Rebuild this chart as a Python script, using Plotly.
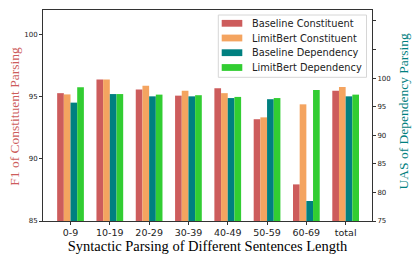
import plotly.graph_objects as go

categories = ["0-9", "10-19", "20-29", "30-39", "40-49", "50-59", "60-69", "total"]
baseline_const = [95.3, 96.4, 95.6, 95.1, 95.7, 93.2, 87.95, 95.5]
limitbert_const = [95.2, 96.4, 95.9, 95.5, 95.3, 93.35, 94.4, 95.8]
baseline_dep = [95.7, 97.2, 96.8, 96.8, 96.5, 96.3, 78.5, 96.8]
limitbert_dep = [98.4, 97.2, 97.1, 97.0, 96.7, 96.5, 97.9, 97.1]

names = ["Baseline Constituent", "LimitBert Constituent", "Baseline Dependency", "LimitBert Dependency"]
colors = ["#CD5C5C", "#F4A460", "#008080", "#32CD32"]
series = [baseline_const, limitbert_const, baseline_dep, limitbert_dep]
axes = ["y", "y", "y2", "y2"]
bases = {"y": 85, "y2": 75}

w = 0.17
offsets = [-2 * w, -w, 0, w]

# plot area in pixels (for legend placement)
L, R, T, B = 43, 43, 10, 39
W, H = 415, 260
pw, ph = W - L - R, H - T - B


def fx(px):
    return (px - L) / pw


def fy(py):
    return (H - B - py) / ph


fig = go.Figure()
for i in range(4):
    b = bases[axes[i]]
    fig.add_trace(go.Bar(
        x=categories, y=[v - b for v in series[i]], base=b, name=names[i],
        marker=dict(color=colors[i], line=dict(width=0)),
        width=w, offset=offsets[i], yaxis=axes[i], showlegend=False,
        hoverinfo="skip",
    ))

# legend drawn manually (matplotlib-style compact legend)
shapes = [dict(type="rect", xref="paper", yref="paper",
               x0=fx(218.3), x1=fx(366.5), y0=fy(77.3), y1=fy(15),
               line=dict(color="#d6d6d6", width=1), fillcolor="white", layer="above")]
annotations = []
row_y = [23.3, 38.0, 52.7, 67.5]
for i in range(4):
    shapes.append(dict(type="rect", xref="paper", yref="paper",
                       x0=fx(221.7), x1=fx(242.3), y0=fy(row_y[i] + 3.4), y1=fy(row_y[i] - 3.4),
                       line=dict(width=0), fillcolor=colors[i], layer="above"))
    annotations.append(dict(xref="paper", yref="paper", x=fx(250), y=fy(row_y[i]),
                            xanchor="left", yanchor="middle", showarrow=False, text=names[i],
                            font=dict(family="DejaVu Sans", size=9.8, color="#222")))

annotations.append(dict(xref="paper", yref="paper", x=fx(13.7), y=fy(116), textangle=-90,
                        xanchor="center", yanchor="middle", showarrow=False,
                        text="F1 of Constituent Parsing",
                        font=dict(family="Liberation Serif", size=13.5, color="#CD5C5C")))
annotations.append(dict(xref="paper", yref="paper", x=fx(403.5), y=fy(111), textangle=-90,
                        xanchor="center", yanchor="middle", showarrow=False,
                        text="UAS of Dependency Parsing",
                        font=dict(family="Liberation Serif", size=13.5, color="#008080")))

fig.update_layout(
    width=W, height=H,
    margin=dict(l=L, r=R, t=T, b=B),
    plot_bgcolor="white", paper_bgcolor="white",
    barmode="overlay",
    showlegend=False,
    hovermode=False,
    shapes=shapes, annotations=annotations,
    xaxis=dict(range=[-0.7, 7.67], showline=True, linecolor="#333", linewidth=1,
               mirror=True, ticks="outside", ticklen=3, tickcolor="#333", automargin=False,
               tickfont=dict(family="DejaVu Sans", size=9.5, color="#222"),
               title=dict(text="Syntactic Parsing of Different Sentences Length",
                          font=dict(family="Liberation Serif", size=14.5, color="black"),
                          standoff=0)),
    yaxis=dict(range=[85, 102], showline=True, linecolor="#333", linewidth=1,
               showgrid=False, zeroline=False, automargin=False,
               tickvals=[85, 90, 95, 100], ticks="outside", ticklen=3, tickcolor="#333",
               tickfont=dict(family="DejaVu Sans", size=7, color="#222")),
    yaxis2=dict(range=[75, 111.9], overlaying="y", side="right", showline=True,
                linecolor="#333", linewidth=1, showgrid=False, zeroline=False, automargin=False,
                tickvals=[75, 80, 85, 90, 95, 100, 105, 110],
                ticktext=["75", "80", "85", "90", "95", "100", "", ""],
                ticks="outside", ticklen=3, tickcolor="#333",
                tickfont=dict(family="DejaVu Sans", size=7, color="#222")),
)
fig.write_html("out.html", config={"displayModeBar": False},
               post_script="document.body.style.margin='0px';")
